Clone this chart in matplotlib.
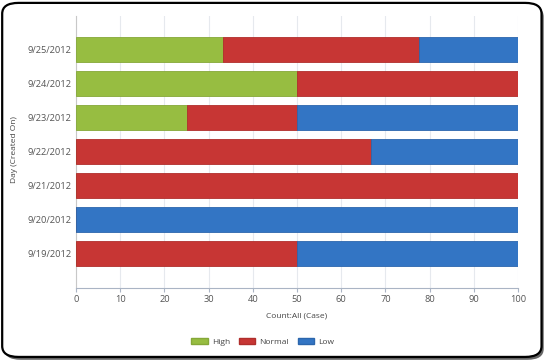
import matplotlib
matplotlib.use("Agg")
import matplotlib.pyplot as plt
from matplotlib.patches import FancyBboxPatch, Patch

# data
days = ["9/19/2012", "9/20/2012", "9/21/2012", "9/22/2012",
        "9/23/2012", "9/24/2012", "9/25/2012"]
high = [0, 0, 0, 0, 25, 50, 33.3]
normal = [50, 0, 100, 66.7, 25, 50, 44.4]
low = [50, 100, 0, 33.3, 50, 0, 22.3]

series = ["High", "Normal", "Low"]
colors = ["#97bd41", "#c73634", "#3375c4"]
edges = ["#85a838", "#b02e2c", "#2c66ad"]

plt.rcParams['font.family'] = ['Open Sans', 'DejaVu Sans']

fig = plt.figure(figsize=(5.47, 3.62), dpi=100)

# rounded frame with shadow
shadow = FancyBboxPatch((0.008, 0.006), 0.986, 0.978,
                        boxstyle="round,pad=0,rounding_size=0.03",
                        transform=fig.transFigure, facecolor="#666666",
                        edgecolor="none", zorder=-2)
frame = FancyBboxPatch((0.004, 0.014), 0.986, 0.978,
                       boxstyle="round,pad=0,rounding_size=0.03",
                       transform=fig.transFigure, facecolor="white",
                       edgecolor="black", linewidth=1.6, zorder=-1)
fig.patches.extend([shadow, frame])

ax = fig.add_axes([76 / 547, 1 - 288 / 362, 442 / 547, 272 / 362])
ax.patch.set_alpha(0)

y = range(len(days))
left = [0] * len(days)
for vals, c, e, name in zip([high, normal, low], colors, edges, series):
    ax.barh(y, vals, left=left, height=0.74, color=c, edgecolor=e,
            linewidth=0.6, label=name, zorder=3)
    left = [a + b for a, b in zip(left, vals)]

ax.set_xlim(0, 100)
ax.set_ylim(-1.03, 7.0)
ax.set_xticks(range(0, 101, 10))
ax.set_yticks(list(y))
ax.set_yticklabels(days)
ax.grid(axis="x", color="#e6e9ee", linewidth=0.8, zorder=0)

for s in ["top", "right"]:
    ax.spines[s].set_visible(False)
ax.spines["left"].set_color("#c8c8c8")
ax.spines["bottom"].set_color("#aab4c4")
ax.tick_params(axis="both", labelsize=6.7, colors="#555555", length=0)
ax.tick_params(axis="x", length=3, color="#aab4c4", pad=2)
ax.tick_params(axis="y", pad=3)

ax.set_xlabel("Count:All (Case)", fontsize=6, color="#444444", labelpad=6)
fig.text(14 / 547, 1 - 150 / 362, "Day (Created On)", rotation=90,
         fontsize=6, color="#444444", ha="center", va="center")

handles = [Patch(facecolor=c, edgecolor=e, label=n)
           for c, e, n in zip(colors, edges, series)]
fig.legend(handles=handles, loc="center", bbox_to_anchor=(263 / 547, 1 - 342 / 362),
           ncol=3, frameon=False, fontsize=6, handlelength=1.95,
           handleheight=0.7, columnspacing=1.1, handletextpad=0.5,
           labelcolor="#444444")

fig.savefig("out.png", dpi=100)
